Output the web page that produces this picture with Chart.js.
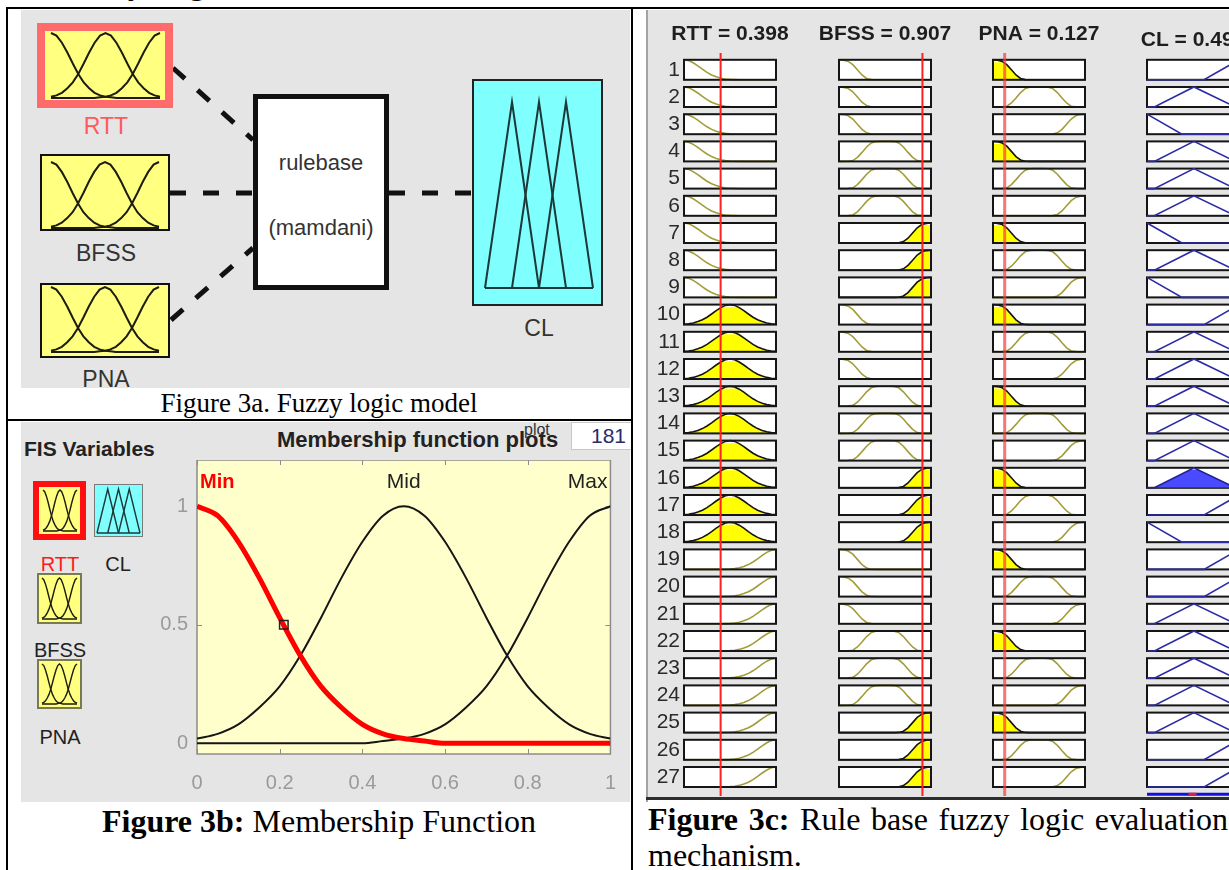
<!DOCTYPE html>
<html>
<head>
<meta charset="utf-8">
<title>Fuzzy logic model</title>
<script src="https://cdn.jsdelivr.net/npm/chart.js@4.4.1/dist/chart.umd.min.js"></script>
<style>
  html, body { margin: 0; padding: 0; }
  body { width: 1229px; height: 870px; overflow: hidden; position: relative; background: #fff;
         font-family: "Liberation Sans", Arial, Helvetica, sans-serif; }
  .abs { position: absolute; }
  .line { position: absolute; background: #000; z-index: 5; }
  .panel { position: absolute; background: #e5e5e5; }
  .serif { position: absolute; font-family: "Liberation Serif", "Times New Roman", serif; color: #000; white-space: nowrap; }
  .cc { position: absolute; white-space: nowrap; line-height: 1; transform: translate(-50%, -50%); z-index: 3; }
  .lc { position: absolute; white-space: nowrap; line-height: 1; transform: translate(0, -50%); z-index: 3; }
  .box { position: absolute; box-sizing: border-box; }
  canvas { position: absolute; display: block; }
</style>
</head>
<body>

<!-- cut heading above the table -->
<div class="serif" style="left:62px; top:-33px; font-size:32px; line-height:32px; font-weight:bold;">Fuzzy Logic</div>

<!-- screenshot backgrounds -->
<div class="panel" style="left:21px; top:10px; width:609px; height:378px;"></div>
<div class="panel" style="left:21px; top:422px; width:609px; height:380px;"></div>
<div class="panel" style="left:646px; top:10px; width:583px; height:790px;"></div>
<div class="abs" style="left:646px; top:10px; width:2px; height:792px; background:#a3a3a3;"></div>
<div class="abs" style="left:646px; top:797px; width:583px; height:3px; background:#2e2e2e;"></div>

<!-- ===== Figure 3a ===== -->
<svg class="abs" style="left:0; top:0;" width="640" height="420">
  <g stroke="#111" stroke-width="5" stroke-dasharray="16 17" fill="none">
    <line x1="173" y1="68" x2="253" y2="140"/>
    <line x1="170" y1="193" x2="253" y2="193"/>
    <line x1="171" y1="320" x2="253" y2="248"/>
    <line x1="389" y1="193" x2="472" y2="193"/>
  </g>
</svg>
<div class="box" style="left:37px; top:23px; width:136px; height:85px; background:#ff6a6a;"></div>
<canvas id="iconRTT" width="120" height="69" style="left:45px; top:31px; background:#ffff80;"></canvas>
<div class="box" style="left:40px; top:154px; width:130px; height:77px; border:2px solid #111; background:#ffff80;"></div>
<canvas id="iconBFSS" width="126" height="73" style="left:42px; top:156px;"></canvas>
<div class="box" style="left:40px; top:283px; width:130px; height:75px; border:2px solid #111; background:#ffff80;"></div>
<canvas id="iconPNA" width="126" height="71" style="left:42px; top:285px;"></canvas>
<div class="box" style="left:253px; top:94px; width:136px; height:196px; border:5px solid #111; background:#fff;"></div>
<div class="box" style="left:472px; top:79px; width:131px; height:227px; border:2px solid #222; background:#80ffff;"></div>
<canvas id="iconCL" width="127" height="223" style="left:474px; top:81px;"></canvas>

<div class="cc" style="left:106px; top:126px; font-size:23px; color:#ff5a5a;">RTT</div>
<div class="cc" style="left:106px; top:253px; font-size:23px; color:#333;">BFSS</div>
<div class="cc" style="left:106px; top:379px; font-size:23px; color:#333;">PNA</div>
<div class="cc" style="left:539px; top:328px; font-size:23px; color:#333;">CL</div>
<div class="cc" style="left:321px; top:163px; font-size:22px; color:#333;">rulebase</div>
<div class="cc" style="left:321px; top:228px; font-size:22px; color:#333;">(mamdani)</div>

<div class="serif" style="left:6px; width:626px; text-align:center; top:390px; font-size:27px; line-height:27px;">Figure 3a. Fuzzy logic model</div>

<!-- ===== Figure 3b ===== -->
<div class="lc" style="left:24px; top:448px; font-size:21px; font-weight:bold; color:#222;">FIS Variables</div>
<div class="lc" style="left:277px; top:440px; font-size:22px; font-weight:bold; color:#222;">Membership function plots</div>
<div class="lc" style="left:524px; top:430px; font-size:16px; color:#333;">plot</div>
<div class="box" style="left:571px; top:422px; width:61px; height:28px; background:#fff; border:1px solid #c8c8c8; text-align:right; padding-right:5px; font-size:21px; line-height:26px; color:#2a2a6a;">181</div>

<div class="box" style="left:33px; top:481px; width:53px; height:59px; background:#ff1010;"></div>
<canvas id="fisRTT" width="41" height="47" style="left:39px; top:487px; background:#ffff80;"></canvas>
<div class="box" style="left:94px; top:484px; width:49px; height:53px; border:1px solid #7a7a7a; background:#80ffff;"></div>
<canvas id="fisCL" width="47" height="51" style="left:95px; top:485px;"></canvas>
<div class="box" style="left:37px; top:573px; width:45px; height:51px; border:2px solid #7a7a50; background:#ffff80;"></div>
<canvas id="fisBFSS" width="41" height="47" style="left:39px; top:575px;"></canvas>
<div class="box" style="left:37px; top:659px; width:45px; height:50px; border:2px solid #7a7a50; background:#ffff80;"></div>
<canvas id="fisPNA" width="41" height="46" style="left:39px; top:661px;"></canvas>
<div class="cc" style="left:60px; top:564px; font-size:20px; color:#ff1a1a;">RTT</div>
<div class="cc" style="left:118px; top:564px; font-size:20px; color:#222;">CL</div>
<div class="cc" style="left:60px; top:650px; font-size:20px; color:#222;">BFSS</div>
<div class="cc" style="left:60px; top:737px; font-size:20px; color:#222;">PNA</div>

<canvas id="mfChart" width="483" height="336" style="left:150px; top:460px;"></canvas>

<div class="serif" style="left:6px; width:626px; text-align:center; top:805px; font-size:32px; line-height:32px;"><b>Figure 3b:</b> Membership Function</div>

<!-- ===== Figure 3c ===== -->
<canvas id="colRTT" width="172" height="776" style="left:644px; top:20px;"></canvas>
<canvas id="colBFSS" width="152" height="776" style="left:809px; top:20px;"></canvas>
<canvas id="colPNA" width="152" height="776" style="left:963px; top:20px;"></canvas>
<canvas id="colCL" width="152" height="776" style="left:1117px; top:20px;"></canvas>

<div class="serif" style="left:648px; width:580px; top:803px; font-size:32px; line-height:32px; text-align:justify; text-align-last:justify;"><b>Figure 3c:</b> Rule base fuzzy logic evaluation</div>
<div class="serif" style="left:648px; top:839px; font-size:32px; line-height:32px;">mechanism.</div>

<!-- table rules -->
<div class="line" style="left:6px; top:7px; width:1223px; height:2px;"></div>
<div class="line" style="left:6px; top:7px; width:2px; height:863px;"></div>
<div class="line" style="left:631px; top:7px; width:2px; height:863px;"></div>
<div class="line" style="left:6px; top:419px; width:627px; height:2px;"></div>

<script>
// ---- data ----
const mfX = [0, 0.05, 0.1, 0.15, 0.2, 0.25, 0.3, 0.35, 0.4, 0.45, 0.5,
             0.55, 0.6, 0.65, 0.7, 0.75, 0.8, 0.85, 0.9, 0.95, 1];

// RTT membership functions (Figure 3b)
const rttMin = [1.00, 0.96, 0.85, 0.70, 0.53, 0.37, 0.24, 0.15, 0.08, 0.04, 0.02,
                0.01, 0, 0, 0, 0, 0, 0, 0, 0, 0];
const rttMid = [0.02, 0.04, 0.08, 0.15, 0.24, 0.37, 0.53, 0.70, 0.85, 0.96, 1.00,
                0.96, 0.85, 0.70, 0.53, 0.37, 0.24, 0.15, 0.08, 0.04, 0.02];
const rttMax = [0, 0, 0, 0, 0, 0, 0, 0, 0, 0.01, 0.02,
                0.04, 0.08, 0.15, 0.24, 0.37, 0.53, 0.70, 0.85, 0.96, 1.00];

// BFSS / PNA membership functions as shown in the rule viewer
const ioMin = [1.00, 0.98, 0.92, 0.76, 0.50, 0.24, 0.07, 0.01, 0, 0, 0,
               0, 0, 0, 0, 0, 0, 0, 0, 0, 0];
const ioMid = [0, 0, 0.01, 0.04, 0.20, 0.45, 0.72, 0.92, 0.99, 1.00, 1.00,
               1.00, 0.99, 0.92, 0.72, 0.45, 0.20, 0.04, 0.01, 0, 0];
const ioMax = [0, 0, 0, 0, 0, 0, 0, 0, 0, 0, 0,
               0, 0, 0.01, 0.07, 0.24, 0.50, 0.76, 0.92, 0.98, 1.00];

// CL output membership functions (rule viewer)
const clLowX = [0, 0.38, 1];
const clLowY = [1, 0, 0];
const clMedX = [0, 0.08, 0.51, 0.96, 1];
const clMedY = [0, 0, 1, 0, 0];
const clHighX = [0, 0.62, 1];
const clHighY = [0, 0, 1];

// CL icon triangles
const iconTriApex = [0.25, 0.5, 0.75];
const iconTriHalf = 0.25;

const mfLabels = ["Min", "Mid", "Max"];
const mfPeaks = [0, 0.5, 1];
const selectedPoint = [0.21, 0.5];
const xTicks = [0, 0.2, 0.4, 0.6, 0.8, 1];
const xTickLabels = ["0", "0.2", "0.4", "0.6", "0.8", "1"];
const yTicks = [0, 0.5, 1];
const yTickLabels = ["0", "0.5", "1"];

const varNames = ["RTT", "BFSS", "PNA", "CL"];
const varValues = [0.398, 0.907, 0.127, 0.495];

const termNames = ["Min", "Mid", "Max"];
const rttDegree = [0, 0.87, 0];
const bfssDegree = [0, 0, 0.9];
const pnaDegree = [0.87, 0, 0];

const ruleNumbers = [1, 2, 3, 4, 5, 6, 7, 8, 9, 10, 11, 12, 13, 14,
                     15, 16, 17, 18, 19, 20, 21, 22, 23, 24, 25, 26, 27];
const ruleRTT = ["Min", "Min", "Min", "Min", "Min", "Min", "Min", "Min", "Min",
                 "Mid", "Mid", "Mid", "Mid", "Mid", "Mid", "Mid", "Mid", "Mid",
                 "Max", "Max", "Max", "Max", "Max", "Max", "Max", "Max", "Max"];
const ruleBFSS = ["Min", "Min", "Min", "Mid", "Mid", "Mid", "Max", "Max", "Max",
                  "Min", "Min", "Min", "Mid", "Mid", "Mid", "Max", "Max", "Max",
                  "Min", "Min", "Min", "Mid", "Mid", "Mid", "Max", "Max", "Max"];
const rulePNA = ["Min", "Mid", "Max", "Min", "Mid", "Max", "Min", "Mid", "Max",
                 "Min", "Mid", "Max", "Min", "Mid", "Max", "Min", "Mid", "Max",
                 "Min", "Mid", "Max", "Min", "Mid", "Max", "Min", "Mid", "Max"];
const ruleCL = ["High", "Med", "Low", "Med", "Med", "Med", "Low", "Med", "Low",
                "High", "Med", "Med", "Med", "Med", "Med", "Med", "High", "Low",
                "High", "High", "Med", "Med", "Med", "Med", "Med", "High", "High"];
const ruleStrength = [0, 0, 0, 0, 0, 0, 0, 0, 0,
                      0, 0, 0, 0, 0, 0, 0.9, 0, 0,
                      0, 0, 0, 0, 0, 0, 0, 0, 0];

// ---- chart defaults ----
Chart.defaults.font.family = '"Liberation Sans", Arial, Helvetica, sans-serif';
Chart.defaults.animation = false;
Chart.defaults.responsive = false;
Chart.defaults.events = [];
Chart.defaults.layout.autoPadding = false;
Chart.defaults.plugins.legend.display = false;
Chart.defaults.plugins.tooltip.enabled = false;
Chart.defaults.elements.point.radius = 0;
Chart.defaults.elements.line.tension = 0;

function curvePoints(xs, ys, base) {
  return xs.map((x, i) => ({ x, y: base + ys[i] }));
}

const hiddenScales = {
  x: { type: "linear", min: 0, max: 1, display: false },
  y: { type: "linear", min: 0, max: 1, display: false }
};

// ---- small MF icons ----
function mfIcon(id, padding, width) {
  new Chart(document.getElementById(id), {
    type: "line",
    data: {
      datasets: [rttMin, rttMid, rttMax].map(ys => ({
        data: curvePoints(mfX, ys, 0),
        borderColor: "#1c1c10",
        borderWidth: width,
        clip: false
      }))
    },
    options: { layout: { padding }, scales: hiddenScales }
  });
}

function clIcon(id, padding, width) {
  const tris = iconTriApex.map(a => [
    { x: a - iconTriHalf, y: 0 }, { x: a, y: 1 }, { x: a + iconTriHalf, y: 0 }
  ]);
  tris.push([{ x: 0, y: 0 }, { x: 1, y: 0 }]);
  new Chart(document.getElementById(id), {
    type: "line",
    data: {
      datasets: tris.map(pts => ({ data: pts, borderColor: "#1d3838", borderWidth: width, clip: false }))
    },
    options: { layout: { padding }, scales: hiddenScales }
  });
}

mfIcon("iconRTT", { left: 6, right: 5, top: 2, bottom: 2 }, 2);
mfIcon("iconBFSS", { left: 9, right: 9, top: 6, bottom: 1 }, 2);
mfIcon("iconPNA", { left: 9, right: 9, top: 2, bottom: 4 }, 2);
clIcon("iconCL", { left: 11, right: 8, top: 21, bottom: 16 }, 2);

mfIcon("fisRTT", { left: 4, right: 3, top: 3, bottom: 3 }, 1.4);
mfIcon("fisBFSS", { left: 3, right: 3, top: 3, bottom: 3 }, 1.4);
mfIcon("fisPNA", { left: 3, right: 3, top: 3, bottom: 3 }, 1.4);
clIcon("fisCL", { left: 2, right: 2, top: 4, bottom: 3 }, 1.4);

// ---- Figure 3b: membership function plot ----
const mfDecor = {
  id: "mfDecor",
  beforeDraw(chart) {
    const { ctx, chartArea: a } = chart;
    ctx.save();
    ctx.fillStyle = "#ffffcc";
    ctx.fillRect(a.left, a.top, a.right - a.left, a.bottom - a.top);
    ctx.restore();
  },
  beforeDatasetsDraw(chart) {
    const { ctx, chartArea: a, scales } = chart;
    ctx.save();
    ctx.strokeStyle = "#8c8c8c";
    ctx.lineWidth = 1.5;
    ctx.strokeRect(a.left, a.top, a.right - a.left, a.bottom - a.top);
    ctx.lineWidth = 1;
    ctx.beginPath();
    xTicks.forEach(v => {
      const x = Math.round(scales.x.getPixelForValue(v)) + 0.5;
      ctx.moveTo(x, a.bottom); ctx.lineTo(x, a.bottom - 5);
      ctx.moveTo(x, a.top); ctx.lineTo(x, a.top + 5);
    });
    yTicks.forEach(v => {
      const y = Math.round(scales.y.getPixelForValue(v)) + 0.5;
      ctx.moveTo(a.left, y); ctx.lineTo(a.left + 5, y);
      ctx.moveTo(a.right, y); ctx.lineTo(a.right - 5, y);
    });
    ctx.stroke();
    ctx.restore();
  },
  afterDatasetsDraw(chart) {
    const { ctx, scales } = chart;
    const y = scales.y.getPixelForValue(1.1);
    ctx.save();
    ctx.textBaseline = "middle";
    mfLabels.forEach((label, i) => {
      const x = scales.x.getPixelForValue(mfPeaks[i]);
      if (i === 0) {
        ctx.font = 'bold 20px "Liberation Sans", Arial, sans-serif';
        ctx.fillStyle = "#ff0000";
        ctx.textAlign = "left";
        ctx.fillText(label, x + 3, y);
      } else {
        ctx.font = '21px "Liberation Sans", Arial, sans-serif';
        ctx.fillStyle = "#222";
        ctx.textAlign = i === 1 ? "center" : "right";
        ctx.fillText(label, i === 1 ? x : x - 3, y);
      }
    });
    ctx.restore();
  }
};

new Chart(document.getElementById("mfChart"), {
  type: "line",
  data: {
    datasets: [
      {
        data: [{ x: selectedPoint[0], y: selectedPoint[1] }],
        showLine: false,
        pointStyle: "rect",
        pointRadius: 6,
        pointBorderWidth: 1.5,
        pointBorderColor: "#222",
        pointBackgroundColor: "rgba(0,0,0,0)"
      },
      { data: curvePoints(mfX, rttMin, 0), borderColor: "#ff0000", borderWidth: 5, cubicInterpolationMode: "monotone" },
      { data: curvePoints(mfX, rttMid, 0), borderColor: "#151515", borderWidth: 2, cubicInterpolationMode: "monotone" },
      { data: curvePoints(mfX, rttMax, 0), borderColor: "#151515", borderWidth: 2, cubicInterpolationMode: "monotone" }
    ]
  },
  options: {
    layout: { padding: { left: 0, right: 7, top: 0, bottom: 0 } },
    scales: {
      x: {
        type: "linear", min: 0, max: 1,
        grid: { display: false, drawTicks: false },
        border: { display: false },
        ticks: {
          padding: 17, color: "#9a9a9a", font: { size: 20 },
          callback: (v, i) => xTickLabels[i]
        },
        afterBuildTicks: s => { s.ticks = xTicks.map(v => ({ value: v })); },
        afterFit: s => { s.height = 42; }
      },
      y: {
        type: "linear", min: -0.045, max: 1.195,
        grid: { display: false, drawTicks: false },
        border: { display: false },
        ticks: {
          padding: 9, color: "#9a9a9a", font: { size: 20 },
          callback: (v, i) => yTickLabels[i]
        },
        afterBuildTicks: s => { s.ticks = yTicks.map(v => ({ value: v })); },
        afterFit: s => { s.width = 47; s.paddingTop = 0; s.paddingBottom = 0; }
      }
    }
  },
  plugins: [mfDecor]
});

// ---- Figure 3c: rule viewer, one chart per variable column ----
const ROW_PITCH = 1.36; // row spacing, in box heights

function rowBase(i) {
  return (ruleNumbers.length - 1 - i) * ROW_PITCH;
}

function boxRect(chart, i) {
  const { x, y } = chart.scales;
  const b = rowBase(i);
  const l = x.getPixelForValue(0), r = x.getPixelForValue(1);
  const t = y.getPixelForValue(b + 1), btm = y.getPixelForValue(b);
  return { l, t, w: r - l, h: btm - t };
}

function strokeBox(ctx, r) {
  ctx.strokeStyle = "#151515";
  ctx.lineWidth = 2;
  ctx.strokeRect(r.l, r.t, r.w, r.h);
}

const ruleBoxes = {
  id: "ruleBoxes",
  beforeDatasetsDraw(chart, args, opts) {
    const { ctx } = chart;
    ctx.save();
    ruleNumbers.forEach((n, i) => {
      const r = boxRect(chart, i);
      ctx.fillStyle = "#fff";
      ctx.fillRect(r.l, r.t, r.w, r.h);
      if (opts.borderFirst) strokeBox(ctx, r);
    });
    ctx.restore();
  },
  afterDatasetsDraw(chart, args, opts) {
    const { ctx } = chart;
    ctx.save();
    if (!opts.borderFirst) ruleNumbers.forEach((n, i) => strokeBox(ctx, boxRect(chart, i)));
    ctx.restore();
  },
  afterDraw(chart, args, opts) {
    const { ctx, chartArea: a, scales } = chart;
    ctx.save();
    // column header, centred over the boxes
    ctx.font = 'bold 21px "Liberation Sans", Arial, sans-serif';
    ctx.fillStyle = "#1e1e1e";
    ctx.textAlign = "center";
    ctx.textBaseline = "middle";
    ctx.fillText(opts.header, scales.x.getPixelForValue(0.5), a.top - opts.headerLift);
    if (opts.marker != null) {
      const x = scales.x.getPixelForValue(opts.marker);
      ctx.strokeStyle = opts.markerColor;
      ctx.lineWidth = opts.markerWidth;
      ctx.beginPath();
      ctx.moveTo(x, a.top);
      ctx.lineTo(x, a.bottom);
      ctx.stroke();
    }
    if (opts.aggregate != null) {
      const y = scales.y.getPixelForValue(-0.36);
      ctx.strokeStyle = "#1010e0";
      ctx.lineWidth = 3;
      ctx.beginPath();
      ctx.moveTo(scales.x.getPixelForValue(0), y);
      ctx.lineTo(scales.x.getPixelForValue(1), y);
      ctx.stroke();
      const xr = scales.x.getPixelForValue(opts.aggregate);
      ctx.strokeStyle = "#e02040";
      ctx.beginPath();
      ctx.moveTo(xr - 4, y);
      ctx.lineTo(xr + 4, y);
      ctx.stroke();
    }
    ctx.restore();
  }
};

function ruleColumn(id, cfg) {
  const datasets = [];
  cfg.terms.forEach((term, i) => {
    const base = rowBase(i);
    const shape = cfg.shapes[term];
    const pts = curvePoints(shape.x, shape.y, base);
    const level = cfg.levels[i];
    if (level > 0) {
      datasets.push({
        data: pts, borderWidth: 0, backgroundColor: cfg.fill, order: 3,
        fill: { target: { value: base }, above: cfg.fill, below: "rgba(0,0,0,0)" }
      });
      datasets.push({
        data: pts, borderWidth: 0, backgroundColor: "#fff", order: 2,
        fill: { target: { value: base + level }, above: "#fff", below: "rgba(0,0,0,0)" }
      });
    }
    datasets.push({
      data: pts, order: 1, fill: false,
      borderColor: level > 0 ? cfg.hotLine : cfg.line,
      borderWidth: 1.6
    });
  });

  new Chart(document.getElementById(id), {
    type: "line",
    data: { datasets },
    options: {
      layout: { padding: cfg.padding },
      scales: {
        x: { type: "linear", min: 0, max: 1, display: false },
        y: {
          type: "linear", min: -0.45, max: 36.7,
          display: !!cfg.rowLabels,
          position: "left",
          grid: { display: false, drawTicks: false },
          border: { display: false },
          ticks: {
            autoSkip: false, padding: 4, color: "#2a2a2a", font: { size: 21 },
            callback: (v, i) => ruleNumbers[i]
          },
          afterBuildTicks: s => { s.ticks = ruleNumbers.map((n, i) => ({ value: rowBase(i) + 0.5 })); },
          afterFit: s => {
            if (!s.options.display) return;
            s.width = 40; s.paddingTop = 0; s.paddingBottom = 0;
          }
        }
      },
      plugins: {
        ruleBoxes: {
          header: cfg.header, headerLift: cfg.headerLift,
          borderFirst: !!cfg.borderFirst,
          marker: cfg.marker, markerColor: cfg.markerColor, markerWidth: cfg.markerWidth,
          aggregate: cfg.aggregate
        }
      }
    },
    plugins: [ruleBoxes]
  });
}

const rttShapes = { Min: { x: mfX, y: rttMin }, Mid: { x: mfX, y: rttMid }, Max: { x: mfX, y: rttMax } };
const ioShapes = { Min: { x: mfX, y: ioMin }, Mid: { x: mfX, y: ioMid }, Max: { x: mfX, y: ioMax } };
const clShapes = { Low: { x: clLowX, y: clLowY }, Med: { x: clMedX, y: clMedY }, High: { x: clHighX, y: clHighY } };

const olive = "#a39c3a";
const sidePad = { left: 30, right: 30, top: 33, bottom: 0 };

ruleColumn("colRTT", {
  header: `${varNames[0]} = ${varValues[0]}`, headerLift: 19,
  padding: { left: 0, right: 40, top: 33, bottom: 0 }, rowLabels: true,
  terms: ruleRTT, shapes: rttShapes,
  levels: ruleRTT.map(t => rttDegree[termNames.indexOf(t)]),
  line: olive, hotLine: "#151515", fill: "#ffff00",
  marker: varValues[0], markerColor: "#ff2020", markerWidth: 2
});
ruleColumn("colBFSS", {
  header: `${varNames[1]} = ${varValues[1]}`, headerLift: 19,
  padding: sidePad,
  terms: ruleBFSS, shapes: ioShapes,
  levels: ruleBFSS.map(t => bfssDegree[termNames.indexOf(t)]),
  line: olive, hotLine: "#151515", fill: "#ffff00",
  marker: varValues[1], markerColor: "#ff2020", markerWidth: 2
});
ruleColumn("colPNA", {
  header: `${varNames[2]} = ${varValues[2]}`, headerLift: 19,
  padding: sidePad,
  terms: rulePNA, shapes: ioShapes,
  levels: rulePNA.map(t => pnaDegree[termNames.indexOf(t)]),
  line: olive, hotLine: "#151515", fill: "#ffff00",
  marker: varValues[2], markerColor: "rgba(255,60,60,0.72)", markerWidth: 3
});
ruleColumn("colCL", {
  header: `${varNames[3]} = ${varValues[3]}`, headerLift: 13,
  padding: sidePad,
  terms: ruleCL, shapes: clShapes, levels: ruleStrength,
  line: "#2b2ba6", hotLine: "#1f1f90", fill: "#4a4aff",
  borderFirst: true, aggregate: varValues[3]
});
</script>
</body>
</html>
